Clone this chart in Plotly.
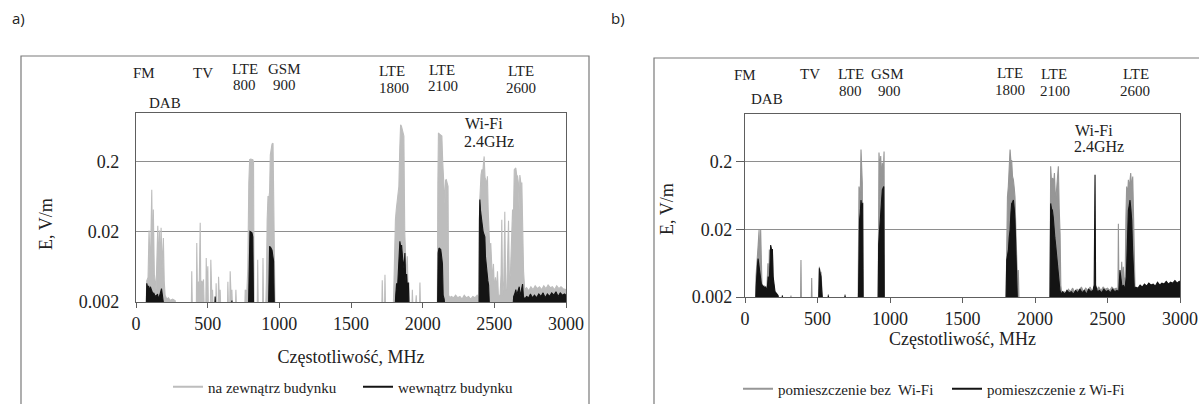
import math
import plotly.graph_objects as go

# ---------------- data ----------------
# panel a) outside / inside building
a_out_f = [0, 70, 75, 84, 91, 100, 110, 116, 121, 128, 140, 152, 158, 164, 170, 175, 183, 191, 197, 203,
           215, 226, 240, 255, 273, 280,
           386, 389, 393, 421, 424, 428, 436, 441, 448, 452, 459, 466, 471, 476, 487, 490, 494, 501, 505,
           519, 522, 526, 531, 534, 538, 556, 559, 563, 573, 576, 580, 584, 587, 591,
           638, 641, 645, 654, 657, 661, 666, 669, 673, 694, 697, 701,
           759, 762, 768, 774, 780, 787, 793, 800, 808, 815, 820, 824, 846, 849, 853, 883, 886, 890,
           905, 910, 915, 921, 927, 932, 937, 942, 949, 956, 961, 965, 970, 1090, 1093, 1096,
           1715, 1718, 1722, 1734, 1737, 1741, 1795, 1800, 1804, 1810, 1816, 1822, 1828, 1834, 1840, 1846,
           1852, 1858, 1864, 1869, 1875, 1881, 1887, 1893, 1898, 1904, 1910, 1925, 1928, 1932, 1950, 1955,
           1960, 1978, 1981, 1985,
           2102, 2106, 2110, 2118, 2126, 2134, 2140, 2149, 2155, 2160, 2165, 2171, 2177, 2181, 2190,
           2200, 2215, 2230, 2245, 2260, 2275, 2290, 2305, 2320, 2335, 2350, 2365, 2380, 2392,
           2397, 2401, 2407, 2413, 2420, 2425, 2429, 2435, 2441, 2447, 2452, 2457, 2463, 2469, 2475, 2481,
           2487, 2494, 2500, 2508, 2515, 2522, 2528, 2540, 2547, 2552, 2558, 2566, 2573, 2579, 2587, 2593,
           2599, 2605, 2612, 2620, 2627, 2633, 2639, 2645, 2650, 2656, 2662, 2668, 2673, 2678, 2685, 2692,
           2698, 2704, 2712, 2725, 2740, 2755, 2770, 2785, 2800, 2815, 2830, 2845, 2860, 2875, 2890, 2905,
           2920, 2935, 2950, 2965, 2980, 3000]
a_out_e = [0.0017, 0.0017, 0.004, 0.0045, 0.021, 0.006, 0.08, 0.006, 0.042, 0.005, 0.003, 0.0246, 0.006, 0.021, 0.005, 0.023, 0.006, 0.0164, 0.004, 0.0025,
           0.0022, 0.0023, 0.0021, 0.0022, 0.0021, 0.0017,
           0.0017, 0.0055, 0.0017, 0.0017, 0.0139, 0.0035, 0.0039, 0.0035, 0.027, 0.0035, 0.004, 0.0035, 0.0042, 0.0017, 0.0017, 0.0085, 0.003, 0.0065, 0.0017,
           0.0017, 0.008, 0.0017, 0.0017, 0.003, 0.0017, 0.0017, 0.0037, 0.0017, 0.0017, 0.0046, 0.0017, 0.0017, 0.003, 0.0017,
           0.0017, 0.0039, 0.0017, 0.0017, 0.0055, 0.0017, 0.0017, 0.003, 0.0017, 0.0017, 0.003, 0.0017,
           0.0017, 0.003, 0.0028, 0.003, 0.006, 0.1, 0.216, 0.22, 0.22, 0.215, 0.2, 0.0017, 0.0017, 0.008, 0.0017, 0.0017, 0.0085, 0.0017,
           0.0017, 0.004, 0.03, 0.065, 0.06, 0.075, 0.25, 0.3, 0.36, 0.37, 0.06, 0.015, 0.0017, 0.0017, 0.002, 0.0017,
           0.0017, 0.0041, 0.0017, 0.0017, 0.0049, 0.0017, 0.0017, 0.004, 0.0215, 0.03, 0.042, 0.06, 0.08, 0.09, 0.3, 0.68,
           0.65, 0.58, 0.5, 0.47, 0.02, 0.011, 0.004, 0.009, 0.003, 0.0038, 0.0017, 0.0017, 0.003, 0.0017, 0.0017, 0.0025,
           0.0017, 0.0017, 0.0038, 0.0017,
           0.0017, 0.1, 0.52, 0.5, 0.49, 0.47, 0.2, 0.065, 0.05, 0.11, 0.112, 0.1, 0.09, 0.0025, 0.0023,
           0.0024, 0.0023, 0.0025, 0.0023, 0.0024, 0.0022, 0.0025, 0.0023, 0.0024, 0.0022, 0.0024, 0.0023, 0.0025, 0.0023,
           0.05, 0.106, 0.13, 0.155, 0.15, 0.2, 0.24, 0.12, 0.11, 0.09, 0.125, 0.042, 0.02, 0.01, 0.0139, 0.005,
           0.004, 0.007, 0.003, 0.0045, 0.003, 0.0055, 0.0025, 0.0025, 0.005, 0.03, 0.0025, 0.004, 0.039, 0.003, 0.003, 0.01,
           0.029, 0.004, 0.005, 0.015, 0.042, 0.03, 0.155, 0.16, 0.164, 0.13, 0.125, 0.1, 0.04, 0.13, 0.1, 0.1,
           0.02, 0.0055, 0.003, 0.0032, 0.0029, 0.0033, 0.003, 0.0034, 0.0031, 0.0033, 0.003, 0.0034, 0.0031, 0.0035, 0.0032, 0.0033,
           0.003, 0.0034, 0.0031, 0.0033, 0.0031, 0.003]

a_in_f = [0, 72, 75, 82, 88, 94, 100, 106, 112, 118, 124, 130, 140, 150, 158, 165, 172, 178, 184, 190, 195,
          549, 552, 556, 666, 669, 673,
          785, 790, 795, 802, 809, 815, 820, 925, 929, 932, 940, 949, 955, 960, 965,
          1808, 1812, 1818, 1824, 1830, 1836, 1841, 1847, 1853, 1859, 1865, 1870, 1876, 1882, 1888, 1894, 1900, 1905,
          2104, 2108, 2114, 2120, 2126, 2132, 2138, 2143, 2150, 2155,
          2393, 2396, 2399, 2404, 2410, 2416, 2422, 2428, 2434, 2438, 2443, 2449, 2455, 2460, 2466,
          2630, 2635, 2642, 2650, 2656, 2662, 2668, 2674, 2680, 2686, 2692, 2697, 2703, 2712, 2725, 2740,
          2752, 2765, 2780, 2795, 2810, 2825, 2840, 2855, 2870, 2885, 2900, 2915, 2930, 2945, 2960, 2975, 2990, 3000]
a_in_e = [0.0017, 0.0017, 0.0037, 0.0032, 0.0034, 0.0028, 0.0033, 0.003, 0.0028, 0.0026, 0.0027, 0.0025, 0.0024, 0.0026, 0.0022, 0.0024, 0.0028, 0.0031, 0.0026, 0.0023, 0.0017,
          0.0017, 0.0024, 0.0017, 0.0017, 0.0021, 0.0017,
          0.0017, 0.015, 0.0204, 0.02, 0.0195, 0.017, 0.0017, 0.0017, 0.009, 0.0125, 0.012, 0.011, 0.009, 0.0076, 0.0017,
          0.0017, 0.0025, 0.0037, 0.003, 0.0055, 0.01, 0.0147, 0.012, 0.013, 0.009, 0.0073, 0.006, 0.01, 0.004, 0.005, 0.003, 0.0038, 0.0017,
          0.0017, 0.01, 0.0118, 0.0115, 0.0112, 0.009, 0.007, 0.0025, 0.0022, 0.0017,
          0.0017, 0.03, 0.058, 0.04, 0.027, 0.025, 0.02, 0.018, 0.017, 0.009, 0.0064, 0.0055, 0.004, 0.0035, 0.0017,
          0.0017, 0.0024, 0.0026, 0.003, 0.0025, 0.0028, 0.0032, 0.0033, 0.0024, 0.0028, 0.003, 0.0036, 0.0024, 0.0022, 0.0024, 0.0023,
          0.0026, 0.0023, 0.0025, 0.0023, 0.0026, 0.0024, 0.0027, 0.0023, 0.0026, 0.0024, 0.0027, 0.0025, 0.0028, 0.0024, 0.0027, 0.0025, 0.0026, 0.0025]

# panel b) room without / with Wi-Fi
b_no_f = [0, 72, 76, 80, 85, 91, 97, 102, 108, 113, 117, 125, 135, 145, 152, 158, 164, 168, 172, 177, 183, 189, 195,
          205, 215, 225, 235, 255, 258, 261, 314, 317, 320, 383, 386, 389, 457, 460, 463,
          508, 513, 518, 524, 529, 535, 572, 575, 578, 687, 690, 693,
          780, 786, 791, 796, 800, 805, 809, 813, 918, 924, 930, 936, 941, 947, 953, 959, 962,
          1800, 1805, 1810, 1816, 1822, 1828, 1834, 1839, 1845, 1851, 1857, 1862, 1868, 1874, 1880, 1885, 1890,
          2103, 2108, 2114, 2122, 2128, 2134, 2142, 2150, 2156, 2161, 2167, 2173, 2178, 2185,
          2200, 2215, 2230, 2245, 2260, 2275, 2290, 2305, 2320, 2335, 2350, 2365, 2380, 2395, 2405, 2414, 2425,
          2440, 2455, 2470, 2485, 2500, 2515, 2530, 2545, 2560, 2572, 2575, 2579, 2586, 2592, 2598, 2603, 2609,
          2615, 2622, 2627, 2632, 2638, 2644, 2650, 2655, 2660, 2667, 2674, 2680, 2685, 2690,
          2700, 2800, 2900, 3000]
b_no_e = [0.0017, 0.0017, 0.004, 0.006, 0.0088, 0.012, 0.0195, 0.006, 0.0195, 0.004, 0.003, 0.0028, 0.0026, 0.0025, 0.003, 0.0063, 0.0025, 0.01, 0.006, 0.011, 0.008, 0.0095, 0.003,
          0.0024, 0.0022, 0.002, 0.0017, 0.0017, 0.0021, 0.0017, 0.0017, 0.0021, 0.0017, 0.0017, 0.007, 0.0017, 0.0017, 0.0038, 0.0017,
          0.0017, 0.0056, 0.004, 0.0047, 0.003, 0.0017, 0.0017, 0.0022, 0.0017, 0.0017, 0.0022, 0.0017,
          0.0017, 0.085, 0.06, 0.09, 0.3, 0.12, 0.096, 0.0017, 0.0017, 0.27, 0.15, 0.24, 0.1, 0.19, 0.12, 0.28, 0.0017,
          0.0017, 0.043, 0.06, 0.085, 0.15, 0.3, 0.2, 0.21, 0.12, 0.107, 0.08, 0.06, 0.02, 0.009, 0.003, 0.005, 0.0017,
          0.0017, 0.17, 0.1, 0.114, 0.09, 0.135, 0.05, 0.085, 0.1, 0.17, 0.04, 0.017, 0.003, 0.0022,
          0.0024, 0.0022, 0.0026, 0.0024, 0.0027, 0.0023, 0.0026, 0.0025, 0.0028, 0.0024, 0.0027, 0.0025, 0.0028, 0.0024, 0.0026, 0.003, 0.0026,
          0.0028, 0.0025, 0.0028, 0.0026, 0.0027, 0.0025, 0.0028, 0.0026, 0.0027, 0.0025, 0.024, 0.0025, 0.004, 0.003, 0.0066, 0.003, 0.0056,
          0.003, 0.004, 0.03, 0.085, 0.06, 0.107, 0.08, 0.1, 0.135, 0.08, 0.12, 0.03, 0.009, 0.0025,
          0.0026, 0.0028, 0.0029, 0.003]

b_wifi_f = [0, 74, 77, 80, 85, 90, 95, 100, 106, 112, 118, 124, 130, 136, 142, 148, 154, 160, 166, 172, 177, 183, 189, 194,
            200, 207, 214, 220, 228, 236, 255, 258, 261,
            508, 513, 518, 524, 529, 535, 572, 575, 578, 687, 690, 693,
            782, 786, 790, 795, 800, 806, 812, 815, 918, 922, 927, 932, 936, 941, 947, 952, 957, 960,
            1800, 1805, 1811, 1817, 1822, 1828, 1834, 1839, 1845, 1851, 1857, 1862, 1868, 1874, 1879,
            2103, 2108, 2114, 2120, 2126, 2131, 2137, 2142, 2148, 2154, 2160, 2166, 2172, 2180, 2190,
            2205, 2220, 2235, 2250, 2265, 2280, 2295, 2310, 2325, 2340, 2355, 2370, 2385, 2400, 2408, 2414, 2418,
            2430, 2445, 2460, 2475, 2490, 2505, 2520, 2535, 2550, 2565, 2578, 2586, 2592, 2600, 2610, 2620, 2630,
            2638, 2644, 2650, 2655, 2661, 2667, 2673, 2679, 2685, 2695,
            2710, 2725, 2740, 2755, 2770, 2785, 2800, 2815, 2830, 2845, 2860, 2875, 2890, 2905, 2920, 2935,
            2950, 2965, 2980, 2995, 3000]
b_wifi_e = [0.0017, 0.0017, 0.0028, 0.0045, 0.0055, 0.0074, 0.006, 0.0045, 0.004, 0.0032, 0.003, 0.0028, 0.0029, 0.0027, 0.0028, 0.0026, 0.0027, 0.004, 0.0028, 0.0085, 0.0117, 0.01, 0.01, 0.004,
            0.0028, 0.0024, 0.0023, 0.0022, 0.0021, 0.0017, 0.0017, 0.0021, 0.0017,
            0.0017, 0.0053, 0.0045, 0.004, 0.0025, 0.0017, 0.0017, 0.0021, 0.0017, 0.0017, 0.0021, 0.0017,
            0.0017, 0.02, 0.0275, 0.035, 0.054, 0.04, 0.049, 0.0017, 0.0017, 0.012, 0.0195, 0.025, 0.031, 0.05, 0.076, 0.08, 0.085, 0.0017,
            0.0017, 0.007, 0.0088, 0.01, 0.015, 0.0195, 0.035, 0.048, 0.05, 0.054, 0.04, 0.027, 0.01, 0.0036, 0.0017,
            0.0017, 0.048, 0.04, 0.038, 0.03, 0.0195, 0.015, 0.012, 0.009, 0.007, 0.0056, 0.004, 0.0025, 0.0022, 0.0024,
            0.0022, 0.0025, 0.0023, 0.0024, 0.0022, 0.0025, 0.0023, 0.0026, 0.0023, 0.0025, 0.0022, 0.0026, 0.0024, 0.0025, 0.003, 0.127, 0.003,
            0.0024, 0.0025, 0.0023, 0.0026, 0.0024, 0.0025, 0.0023, 0.0026, 0.0024, 0.0025, 0.0024, 0.005, 0.0035, 0.0028, 0.003, 0.0026, 0.004,
            0.02, 0.038, 0.045, 0.054, 0.04, 0.027, 0.01, 0.004, 0.0026, 0.0028,
            0.0027, 0.003, 0.0028, 0.0031, 0.0029, 0.0032, 0.003, 0.0031, 0.0029, 0.0033, 0.003, 0.0032, 0.0031, 0.0034, 0.0031, 0.0033,
            0.0032, 0.0035, 0.0032, 0.0034, 0.0033]

x_ticks = [0, 500, 1000, 1500, 2000, 2500, 3000]
y_ticks = [0.002, 0.02, 0.2]
y_tick_text = ["0.002", "0.02", "0.2"]

band_labels_a = [("FM", 143.5, 73), ("TV", 203, 73), ("LTE", 245, 69), ("800", 244, 85),
                 ("GSM", 284, 69), ("900", 284, 85), ("DAB", 165, 103),
                 ("LTE", 392, 71), ("1800", 394, 88), ("LTE", 442, 70), ("2100", 443, 86),
                 ("LTE", 521, 71), ("2600", 521, 88)]
band_labels_b = [("FM", 745, 75), ("TV", 810, 74), ("LTE", 851, 74), ("800", 850, 91),
                 ("GSM", 887, 74), ("900", 889, 91), ("DAB", 766.5, 99),
                 ("LTE", 1009.5, 73), ("1800", 1009.5, 90), ("LTE", 1053.5, 74), ("2100", 1054.6, 91),
                 ("LTE", 1136, 74), ("2600", 1135, 91)]
wifi_labels = [("Wi-Fi", 463, 123), ("2.4GHz", 462, 141), ("Wi-Fi", 1073, 130), ("2.4GHz", 1072, 146)]

# ---------------- figure ----------------
W, H = 1199, 404
SERIF = "Liberation Serif, Times New Roman, serif"
px = lambda v: v / W
py = lambda v: 1 - v / H

GRAY_A = "#bdbdbd"
GRAY_B = "#969696"
BLACK = "#141414"

fig = go.Figure()

def add_series(f, e, color, ax, ay):
    fig.add_trace(go.Scatter(x=f, y=e, mode="lines", line=dict(color=color, width=1.1),
                             fill="tozeroy", fillcolor=color, xaxis=ax, yaxis=ay,
                             showlegend=False, hoverinfo="x+y"))

add_series(a_out_f, a_out_e, GRAY_A, "x", "y")
add_series(a_in_f, a_in_e, BLACK, "x", "y")
add_series(b_no_f, b_no_e, GRAY_B, "x2", "y2")
add_series(b_wifi_f, b_wifi_e, BLACK, "x2", "y2")

# legend entries
for name, color, ax, ay, lg in [("na zewnątrz budynku", GRAY_A, "x", "y", "legend"),
                                ("wewnątrz budynku", BLACK, "x", "y", "legend"),
                                ("pomieszczenie bez  Wi-Fi", GRAY_B, "x2", "y2", "legend2"),
                                ("pomieszczenie z Wi-Fi", BLACK, "x2", "y2", "legend2")]:
    fig.add_trace(go.Scatter(x=[None], y=[None], mode="lines", name=name,
                             line=dict(color=color, width=2), xaxis=ax, yaxis=ay, legend=lg))

ylo = math.log10(0.002)
axis_common = dict(showline=True, mirror=True, linecolor="#5e5e5e", linewidth=1.3,
                   zeroline=False, automargin=False,
                   tickfont=dict(family=SERIF, size=18, color="#222"),
                   title_font=dict(family=SERIF, size=18, color="#222"))

fig.update_layout(
    width=W, height=H, margin=dict(l=0, r=0, t=0, b=0, autoexpand=False),
    paper_bgcolor="white", plot_bgcolor="white",
    xaxis=dict(domain=[px(136), px(566)], range=[0, 3000], tickvals=x_ticks,
               ticks="outside", ticklen=5, tickcolor="#5e5e5e", showgrid=False,
               title=dict(text="Częstotliwość, MHz", standoff=17), anchor="y", **axis_common),
    yaxis=dict(domain=[py(302), py(113)], type="log", range=[ylo, 0], tickvals=y_ticks,
               ticktext=y_tick_text, ticks="outside", ticklen=12, tickcolor="rgba(0,0,0,0)",
               showgrid=True, gridcolor="#8e8e8e", gridwidth=1.3, anchor="x", **axis_common),
    xaxis2=dict(domain=[px(745), px(1180)], range=[0, 3000], tickvals=x_ticks,
                ticks="outside", ticklen=5, tickcolor="#5e5e5e", showgrid=False,
                title=dict(text="Częstotliwość, MHz", standoff=1), anchor="y2", **axis_common),
    yaxis2=dict(domain=[py(297), py(114)], type="log", range=[ylo, 0], tickvals=y_ticks,
                ticktext=y_tick_text, ticks="outside", ticklen=8, tickcolor="#5e5e5e",
                showgrid=True, gridcolor="#8e8e8e", gridwidth=1.3, anchor="x2", **axis_common),
    legend=dict(orientation="h", x=px(168), y=py(387), xanchor="left", yanchor="middle",
                font=dict(family=SERIF, size=15, color="#222"), bgcolor="rgba(0,0,0,0)",
                entrywidth=145, itemwidth=30),
    legend2=dict(orientation="h", x=px(738), y=py(389), xanchor="left", yanchor="middle",
                 font=dict(family=SERIF, size=15, color="#222"), bgcolor="rgba(0,0,0,0)",
                 entrywidth=164, itemwidth=30),
    showlegend=True,
)

# outer frames of the two panels
fig.add_shape(type="rect", xref="paper", yref="paper", x0=px(21), x1=px(589), y0=-0.05, y1=py(56),
              line=dict(color="#7a7a7a", width=1.2), fillcolor="rgba(0,0,0,0)", layer="below")
fig.add_shape(type="rect", xref="paper", yref="paper", x0=px(654), x1=1.05, y0=-0.05, y1=py(58),
              line=dict(color="#7a7a7a", width=1.2), fillcolor="rgba(0,0,0,0)", layer="below")

for text, x, y in band_labels_a + band_labels_b:
    fig.add_annotation(text=text, x=px(x), y=py(y), xref="paper", yref="paper", showarrow=False,
                       xanchor="center", yanchor="middle", font=dict(family=SERIF, size=15, color="#222"))
for text, x, y in wifi_labels:
    fig.add_annotation(text=text, x=px(x), y=py(y), xref="paper", yref="paper", showarrow=False,
                       xanchor="left", yanchor="middle", font=dict(family=SERIF, size=16, color="#222"))

# y-axis titles
for x, y in [(46, 224), (667, 209)]:
    fig.add_annotation(text="E, V/m", x=px(x), y=py(y), xref="paper", yref="paper", showarrow=False,
                       textangle=-90, xanchor="center", yanchor="middle",
                       font=dict(family=SERIF, size=18, color="#222"))

for text, x in [("a)", 10), ("b)", 609)]:
    fig.add_annotation(text=text, x=px(x), y=py(18), xref="paper", yref="paper", showarrow=False,
                       xanchor="left", yanchor="middle", font=dict(family="Open Sans, sans-serif", size=15, color="#222"))

# remove the default 8 px page margin so the figure fills the window exactly
fig.write_html("out.html", config={"displayModeBar": False},
               post_script="document.body.style.margin='0';")
